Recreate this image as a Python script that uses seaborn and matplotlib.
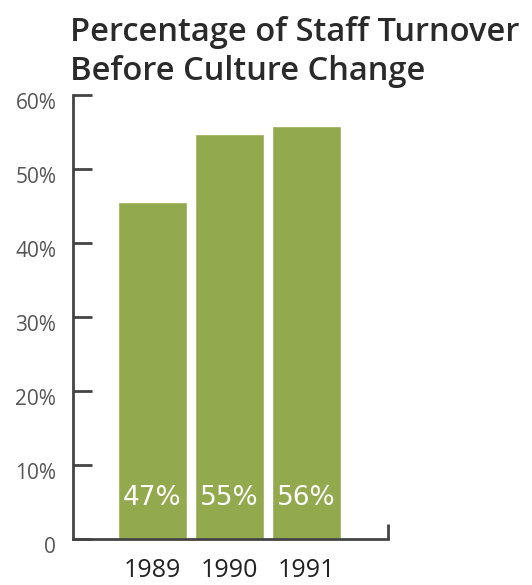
import matplotlib
matplotlib.use("Agg")
import matplotlib.pyplot as plt
import matplotlib.transforms as mtransforms
import seaborn as sns
import pandas as pd

# ----------------------------
# Data
# ----------------------------
years = ["1989", "1990", "1991"]
turnover = [45.5, 54.7, 55.8]          # bar heights as drawn
bar_labels = ["47%", "55%", "56%"]     # printed values
y_ticks = [0, 10, 20, 30, 40, 50, 60]
y_tick_labels = ["0", "10%", "20%", "30%", "40%", "50%", "60%"]

bar_color = "#93a94e"
axis_color = "#444444"

sns.set_style("white")
plt.rcParams["font.family"] = ["Open Sans", "DejaVu Sans"]

df = pd.DataFrame({"year": years, "turnover": turnover})

fig = plt.figure(figsize=(5.32, 5.85), dpi=100)
ax = fig.add_axes([73 / 532, 1 - 539 / 585, (388 - 73) / 532, (539 - 95) / 585])

sns.barplot(data=df, x="year", y="turnover", color=bar_color,
            width=0.9, saturation=1, ax=ax)

ax.set_xlim(-1.03, 3.06)
ax.set_ylim(0, 60)

# ----------------------------
# Axes styling
# ----------------------------
for side in ["top", "right"]:
    ax.spines[side].set_visible(False)
for side in ["left", "bottom"]:
    ax.spines[side].set_color(axis_color)
    ax.spines[side].set_linewidth(2)

ax.set_yticks(y_ticks)
ax.set_yticklabels(y_tick_labels, fontsize=15, color="#555555")
ax.tick_params(axis="y", direction="in", length=14, width=2,
               color=axis_color, pad=12, left=True)
offset = mtransforms.ScaledTranslation(0, -6 / 100, fig.dpi_scale_trans)
for lab in ax.get_yticklabels():
    lab.set_transform(lab.get_transform() + offset)

ax.set_xticks(range(len(years)))
ax.set_xticklabels(years, fontsize=18, color="#222222")
ax.tick_params(axis="x", length=0, pad=14)
# small upturned tick at the end of the x axis
ax.set_xticks([3.06], minor=True)
ax.tick_params(axis="x", which="minor", direction="in", length=11,
               width=2, color=axis_color, bottom=True)

ax.set_xlabel("")
ax.set_ylabel("")

# value labels inside bars
for i, lab in enumerate(bar_labels):
    ax.text(i, 5.5, lab, ha="center", va="center", color="white",
            fontsize=19, family=["Liberation Sans Narrow", "DejaVu Sans"])

# title
fig.text(70 / 532, 1 - 16 / 585,
         "Percentage of Staff Turnover\nBefore Culture Change",
         ha="left", va="top", fontsize=23.5, fontweight="semibold",
         color="#2a2a2a", linespacing=1.25)

fig.savefig("out.png", dpi=100)
